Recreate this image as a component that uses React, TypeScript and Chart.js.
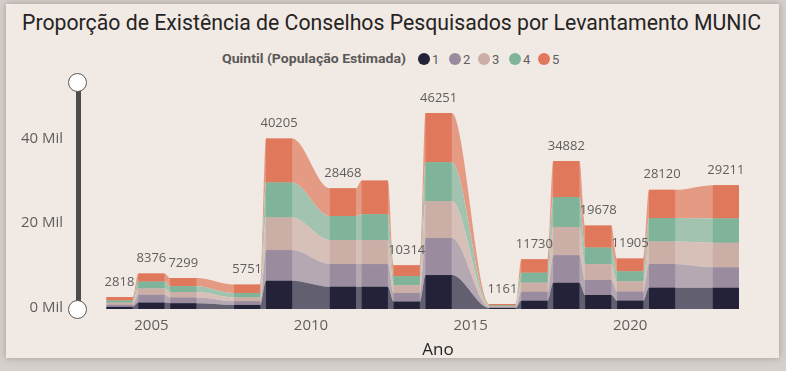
import React, { useEffect, useRef } from 'react';
import { Chart, registerables } from 'chart.js';

Chart.register(...registerables);

// ---------- data ----------
const years = [2004, 2005, 2006, 2008, 2009, 2011, 2012, 2013, 2014, 2016, 2017, 2018, 2019, 2020, 2021, 2023];
const quintil1 = [500, 1511, 1349, 958, 6666, 5259, 5247, 1751, 7994, 211, 1959, 6186, 3308, 1976, 5033, 5017];
const quintil2 = [500, 1840, 1373, 887, 7231, 5354, 5341, 2015, 8771, 220, 2124, 6515, 3543, 2143, 5600, 4806];
const quintil3 = [500, 1505, 1277, 887, 7702, 5661, 5647, 1823, 8700, 210, 2124, 6657, 3709, 2381, 5270, 5795];
const quintil4 = [500, 1605, 1373, 1030, 8243, 5661, 6118, 2159, 9170, 220, 2360, 7056, 3921, 2381, 5530, 5748];
const quintil5 = [818, 1915, 1927, 1989, 10363, 6533, 7929, 2566, 11616, 300, 3163, 8468, 5197, 3024, 6687, 7845];
const totalLabels: (number | null)[] = [2818, 8376, 7299, 5751, 40205, 28468, null, 10314, 46251, 1161, 11730, 34882, 19678, 11905, 28120, 29211];
const seriesNames = ['1', '2', '3', '4', '5'];
const yTicks = [0, 20000, 40000];
const xTicks = [2005, 2010, 2015, 2020];

const TITLE = 'Proporção de Existência de Conselhos Pesquisados por Levantamento MUNIC';
const LEGEND_TITLE = 'Quintil (População Estimada)';

// ---------- styles ----------
const series = [quintil1, quintil2, quintil3, quintil4, quintil5];
const barColors = ['#232239', '#9a8c9e', '#cbaea6', '#7fb39a', '#e0785c'];
const ribbonColors = ['#625f71', '#b4a8b3', '#d6c0b8', '#a1c3b0', '#e59a84'];
const HALF = 0.41; // half bar width in axis units
const TEXT_GREY = '#605e5c';

function fitScale(text: string, font: string, target: number) {
  const c = document.createElement('canvas').getContext('2d');
  if (!c) return 1;
  c.font = font;
  const w = c.measureText(text).width;
  return w > 0 ? target / w : 1;
}

const totalsPlugin = {
  id: 'totals',
  afterDatasetsDraw(chart: any) {
    const { ctx, scales } = chart;
    const x = scales.x;
    const y = scales.y;
    ctx.save();
    ctx.font = "13px 'Open Sans', sans-serif";
    ctx.fillStyle = TEXT_GREY;
    ctx.textAlign = 'center';
    ctx.textBaseline = 'middle';
    years.forEach((yr, j) => {
      const lbl = totalLabels[j];
      if (lbl == null) return;
      const tot = series.reduce((s, arr) => s + arr[j], 0);
      ctx.fillText(String(lbl), x.getPixelForValue(yr), y.getPixelForValue(tot) - 15);
    });
    ctx.restore();
  },
};

export default function App() {
  const canvasRef = useRef<HTMLCanvasElement | null>(null);

  useEffect(() => {
    document.body.style.margin = '0';
    const canvas = canvasRef.current;
    if (!canvas) return;

    const ribbonSets = series.map((vals, i) => ({
      type: 'line' as const,
      label: 'ribbon ' + seriesNames[i],
      stack: 'ribbon',
      order: 2,
      data: years.flatMap((yr, j) => [
        { x: yr - HALF, y: vals[j] },
        { x: yr + HALF, y: vals[j] },
      ]),
      fill: i === 0 ? 'origin' : '-1',
      backgroundColor: ribbonColors[i],
      borderColor: ribbonColors[i],
      borderWidth: 0,
      pointRadius: 0,
      cubicInterpolationMode: 'monotone' as const,
    }));

    const barSets = series.map((vals, i) => ({
      type: 'bar' as const,
      label: seriesNames[i],
      stack: 'bars',
      order: 1,
      data: years.map((yr, j) => ({ x: yr, y: vals[j] })),
      backgroundColor: barColors[i],
      borderWidth: 0,
      categoryPercentage: 1,
      barPercentage: 0.82,
    }));

    const chart = new Chart(canvas, {
      type: 'bar',
      data: { datasets: [...ribbonSets, ...barSets] as any },
      options: {
        animation: false,
        responsive: false,
        maintainAspectRatio: false,
        layout: { padding: { top: 97, right: 10, left: 0, bottom: 0 } },
        plugins: {
          legend: { display: false },
          tooltip: { enabled: false },
        },
        scales: {
          x: {
            type: 'linear',
            offset: false,
            min: 2003.39,
            max: 2024.57,
            stacked: true,
            grid: { display: false, drawTicks: false, offset: false },
            border: { display: false },
            afterBuildTicks: (s: any) => {
              s.ticks = xTicks.map((v) => ({ value: v }));
            },
            afterFit: (s: any) => {
              s.height = 62;
            },
            ticks: {
              color: TEXT_GREY,
              font: { size: 15, family: "'Open Sans', sans-serif" },
              padding: 8,
              callback: (v: any) => String(v),
              maxRotation: 0,
            },
            title: {
              display: true,
              text: 'Ano',
              color: '#252423',
              font: { size: 17, family: "'Open Sans', sans-serif", weight: '500' as any },
              padding: { top: 0, bottom: 11 },
            },
          },
          y: {
            type: 'linear',
            min: 0,
            max: 50000,
            stacked: true,
            grid: { display: false, drawTicks: false },
            border: { display: false },
            afterBuildTicks: (s: any) => {
              s.ticks = yTicks.map((v) => ({ value: v }));
            },
            afterFit: (s: any) => {
              s.width = 100;
            },
            ticks: {
              color: TEXT_GREY,
              font: { size: 15, family: "'Open Sans', sans-serif" },
              padding: 37,
              labelOffset: -1,
              callback: (v: any) => `${Number(v) / 1000} Mil`,
            },
          },
        },
      },
      plugins: [totalsPlugin],
    });

    return () => chart.destroy();
  }, []);

  const titleFont = "22px Roboto";
  const titleScale = fitScale(TITLE, titleFont, 739);
  const legFont = "bold 13px Roboto";
  const legScale = fitScale(LEGEND_TITLE, legFont, 184);

  const legendX = [424, 455, 484, 515, 544];

  return (
    <div style={{ position: 'relative', width: 786, height: 371, background: '#d6d0cc', overflow: 'hidden' }}>
      <div
        style={{
          position: 'absolute',
          left: 6,
          top: 4,
          width: 773,
          height: 354,
          background: '#f1e9e4',
          boxShadow: '0 0 7px rgba(60,50,45,0.35)',
        }}
      />
      <div
        style={{
          position: 'absolute',
          left: 22,
          top: 8,
          whiteSpace: 'nowrap',
          font: titleFont,
          color: '#252423',
          transformOrigin: 'left top',
          transform: `scaleX(${titleScale})`,
          lineHeight: '30px',
        }}
      >
        {TITLE}
      </div>
      <div
        style={{
          position: 'absolute',
          left: 222,
          top: 50,
          whiteSpace: 'nowrap',
          font: legFont,
          color: '#5a5856',
          transformOrigin: 'left top',
          transform: `scaleX(${legScale})`,
          lineHeight: '18px',
        }}
      >
        {LEGEND_TITLE}
      </div>
      {seriesNames.map((n, i) => (
        <div key={n} style={{ position: 'absolute', left: legendX[i] - 6, top: 52, height: 14, display: 'flex', alignItems: 'center' }}>
          <span style={{ width: 12, height: 12, borderRadius: 6, background: barColors[i], display: 'inline-block' }} />
          <span style={{ font: "13px Roboto", color: TEXT_GREY, marginLeft: 2 }}>{n}</span>
        </div>
      ))}
      {/* range slicer */}
      <div style={{ position: 'absolute', left: 76, top: 84, width: 5, height: 226, background: '#4e4c4a' }} />
      <div style={{ position: 'absolute', left: 68, top: 73, width: 17, height: 17, borderRadius: 10, background: '#fff', border: '1.5px solid #5a5856' }} />
      <div style={{ position: 'absolute', left: 68, top: 300, width: 17, height: 17, borderRadius: 10, background: '#fff', border: '1.5px solid #5a5856' }} />
      <canvas ref={canvasRef} width={786} height={371} style={{ position: 'absolute', left: 0, top: 0 }} />
    </div>
  );
}
